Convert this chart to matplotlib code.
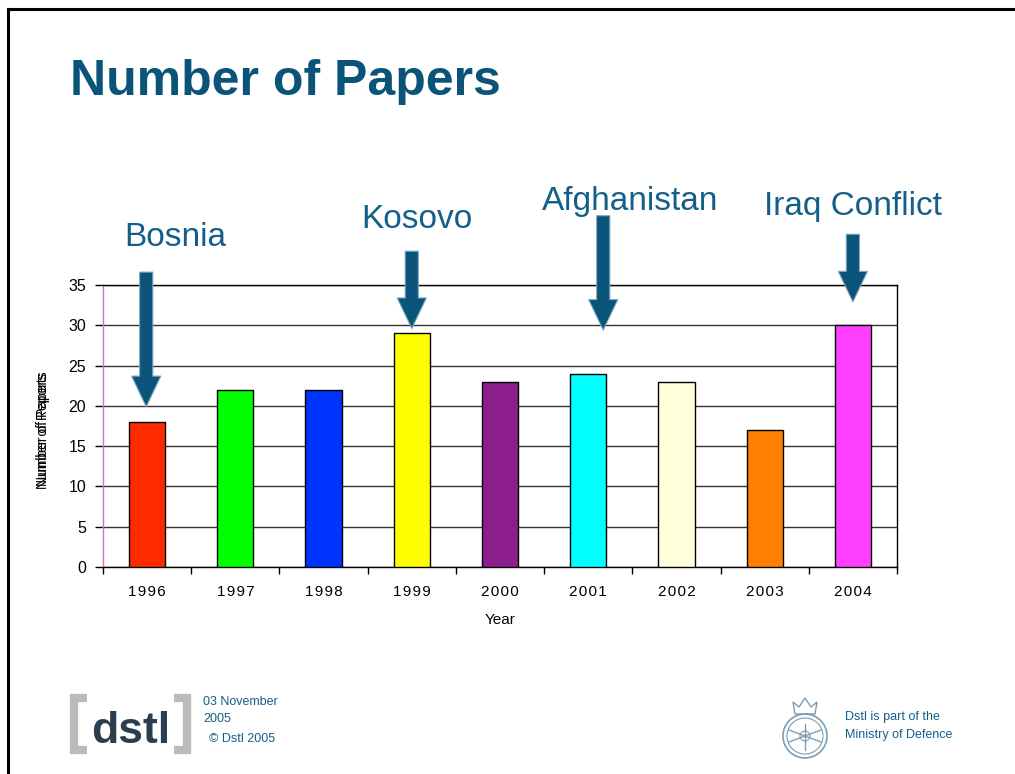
import numpy as np
import matplotlib.pyplot as plt
from matplotlib.patches import Circle, Polygon

plt.rcParams['font.family'] = ['Liberation Sans', 'DejaVu Sans']

# Papers per year
years = ['1996', '1997', '1998', '1999', '2000', '2001', '2002', '2003', '2004']
papers = [18, 22, 22, 29, 23, 24, 23, 17, 30]
bar_colors = ['#FF2A00', '#00FF00', '#0033FF', '#FFFF00', '#8B1E8B',
              '#00FFFF', '#FFFFD9', '#FF7F00', '#FF40FF']

# Events marked with arrows
events = ['Bosnia', 'Kosovo', 'Afghanistan', 'Iraq Conflict']
event_x = [-0.01, 3.0, 5.17, 8.0]
event_top = [36.6, 39.2, 43.6, 41.3]
event_tip = [19.9, 29.6, 29.4, 32.9]
label_x = [0.32, 3.06, 5.47, 8.0]
label_y = [39.8, 42.1, 44.3, 43.7]

W, H = 1015, 774
navy = '#0B5479'
label_blue = '#145F88'

fig = plt.figure(figsize=(W / 100, H / 100), dpi=100)

# slide frame (top and left edges)
fig.add_artist(plt.Line2D([8 / W, 8 / W], [0, 1 - 9 / H], color='black', lw=2.2))
fig.add_artist(plt.Line2D([8 / W, 1], [1 - 9 / H, 1 - 9 / H], color='black', lw=2.2))

fig.text(70 / W, 1 - 95 / H, 'Number of Papers', fontsize=36, fontweight='bold',
         color=navy, va='baseline')

ax = fig.add_axes([103 / W, (H - 567) / H, 794 / W, 282 / H])
x = np.arange(len(years))
ax.bar(x, papers, width=0.41, color=bar_colors, edgecolor='black', linewidth=1, zorder=3)

ax.set_xlim(-0.5, len(years) - 0.5)
ax.set_ylim(0, 35)
ax.set_yticks(range(0, 36, 5))
ax.grid(axis='y', color='#333333', linewidth=1, zorder=0)
ax.set_axisbelow(True)

ax.set_xticks(x)
ax.set_xticklabels(['\u200a'.join(y) for y in years])
ax.set_xticks(np.arange(-0.5, len(years)), minor=True)
ax.tick_params(axis='x', which='major', length=0, pad=13, labelsize=11)
ax.tick_params(axis='x', which='minor', length=5, color='black', width=1)
ax.tick_params(axis='y', length=6, width=1, pad=6, labelsize=11.5)

for side in ['top', 'right', 'bottom']:
    ax.spines[side].set_color('black')
    ax.spines[side].set_linewidth(1)
ax.spines['left'].set_color('#D070D0')
ax.spines['left'].set_linewidth(1)

ax.set_xlabel('Year', fontsize=11, labelpad=10)
# two overlapping axis titles
fig.text(43 / W, 1 - 430 / H, 'Number of Papers', rotation=90, fontsize=10,
         ha='center', va='center')
fig.text(43 / W, 1 - 430 / H, 'Number of Reports', rotation=90, fontsize=10,
         ha='center', va='center')

for name, ex, top, tip, lx, ly in zip(events, event_x, event_top, event_tip, label_x, label_y):
    ax.annotate('', xy=(ex, tip), xytext=(ex, top), annotation_clip=False,
                arrowprops=dict(width=9.5, headwidth=21, headlength=22, shrink=0,
                                fc=navy, ec='#7FA8C2', lw=0.8), zorder=5)
    ax.text(lx, ly, name, fontsize=24, color=label_blue, ha='center',
            va='baseline', clip_on=False)

# dstl logo: grey brackets around the word
gray = '#BBBBBB'
def px(xp, yp):
    return [v / W for v in xp], [1 - v / H for v in yp]
for xs, ys in [([87, 74, 74, 87], [698, 698, 750, 750]),
               ([174, 187, 187, 174], [698, 698, 750, 750])]:
    lx_, ly_ = px(xs, ys)
    fig.add_artist(plt.Line2D(lx_, ly_, color=gray, lw=6, solid_joinstyle='miter',
                              solid_capstyle='butt'))
fig.text(131 / W, 1 - 743 / H, 'dstl', fontsize=32, fontweight='bold',
         color='#2B3E50', va='baseline', ha='center')
fig.text(203 / W, 1 - 705 / H, '03 November', fontsize=9, color=label_blue, va='baseline')
fig.text(203 / W, 1 - 722 / H, '2005', fontsize=9, color=label_blue, va='baseline')
fig.text(209 / W, 1 - 742 / H, '\u00a9 Dstl 2005', fontsize=9, color=label_blue, va='baseline')

# MoD crest
crest = fig.add_axes([775 / W, (H - 760) / H, 60 / W, 72 / H])
crest.set_xlim(0, 60)
crest.set_ylim(0, 72)
crest.set_aspect('equal')
crest.axis('off')
cc = '#7C9DB5'
crest.add_patch(Circle((30, 24), 22, fill=False, ec=cc, lw=1.2))
crest.add_patch(Circle((30, 24), 18, fill=False, ec=cc, lw=0.8))
crest.add_patch(Polygon([[20, 46], [18, 58], [24, 53], [30, 62], [36, 53], [42, 58], [40, 46]],
                        closed=True, fill=False, ec=cc, lw=1))
crest.plot([14, 46], [18, 30], color=cc, lw=1)
crest.plot([14, 46], [30, 18], color=cc, lw=1)
crest.plot([30, 30], [10, 36], color=cc, lw=1)
crest.add_patch(Circle((30, 24), 5, fill=False, ec=cc, lw=0.8))

fig.text(845 / W, 1 - 720 / H, 'Dstl is part of the', fontsize=9, color=label_blue, va='baseline')
fig.text(845 / W, 1 - 738 / H, 'Ministry of Defence', fontsize=9, color=label_blue, va='baseline')

fig.savefig('out.png', dpi=100)
